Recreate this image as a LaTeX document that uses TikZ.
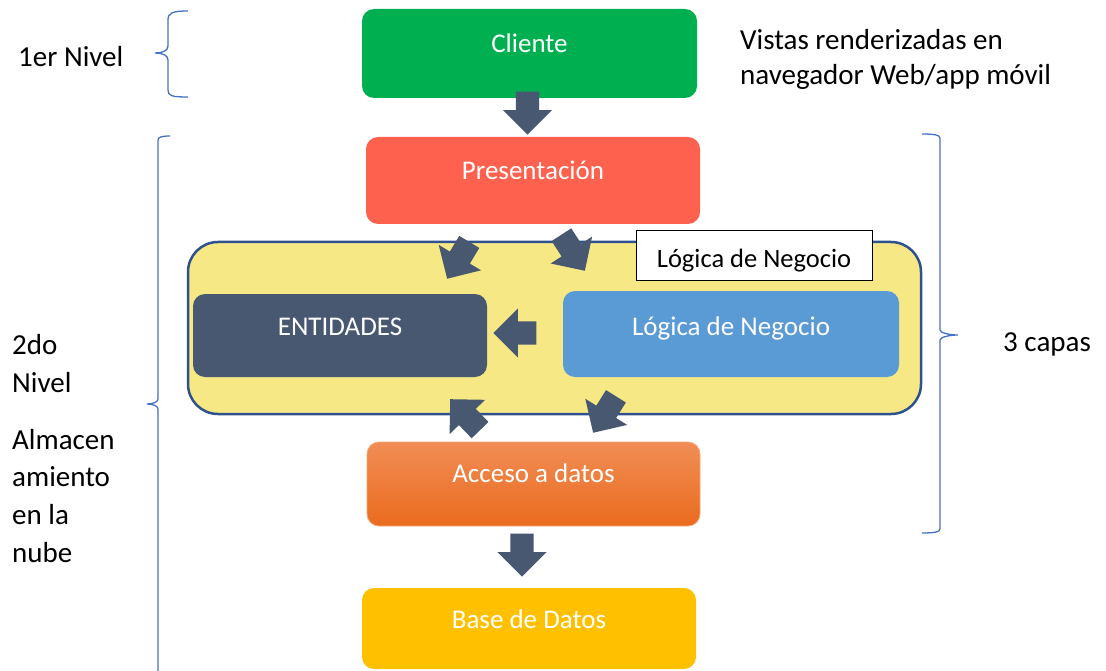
\documentclass[tikz,border=0pt]{standalone}
\usepackage{fontspec}
\setmainfont{Carlito}
\usetikzlibrary{shapes.arrows}
\definecolor{cgreen}{HTML}{00B050}
\definecolor{cred}{HTML}{FF614F}
\definecolor{cyellow}{HTML}{F7E886}
\definecolor{cborder}{HTML}{2F528F}
\definecolor{cslate}{HTML}{475870}
\definecolor{cblue}{HTML}{5B9BD5}
\definecolor{corangeT}{HTML}{F18D55}
\definecolor{corangeB}{HTML}{EA6B1E}
\definecolor{corangeE}{HTML}{F4A77A}
\definecolor{camber}{HTML}{FFC000}
\definecolor{cbrace}{HTML}{4472C4}
\begin{document}
\begin{tikzpicture}[x=1pt,y=-1pt,
  box/.style={rounded corners=12pt, inner sep=0pt, text=white, text height=19pt, text depth=0pt,
     font=\fontsize{27}{32}\selectfont},
  blk/.style={single arrow, fill=cslate, draw=none, minimum height=43pt, minimum width=0pt,
     inner xsep=0pt, inner ysep=11.5pt, single arrow head extend=13pt, anchor=tip},
  side/.style={font=\fontsize{29}{37.5}\selectfont, inner sep=0pt, anchor=base west},
  brace/.style={draw=cbrace, line width=1.3pt}
]
\useasboundingbox (0,0) rectangle (1106,671);

% braces
\draw[brace] (188,11) .. controls (172,11) and (168,13) .. (168,20) -- (168,46)
  .. controls (168,51) and (162,53) .. (155,53) .. controls (162,53) and (168,55) .. (168,60)
  -- (168,90) .. controls (168,96) and (172,97) .. (188,97);
\draw[brace] (170,136) .. controls (162,136) and (158,137) .. (158,140) -- (158,399)
  .. controls (158,402) and (153,404) .. (147,404) .. controls (153,404) and (158,406) .. (158,409)
  -- (158,675);
\draw[brace] (922,134) .. controls (934,134) and (940,135) .. (940,138) -- (940,330)
  .. controls (940,333) and (950,335) .. (958,335) .. controls (950,335) and (940,337) .. (940,340)
  -- (940,529) .. controls (940,532) and (934,533) .. (922,533);

% side texts
\node[side] (n1) at (18,67) {1er Nivel};
\node[side] (v1) at (740,49.5) {Vistas renderizadas en};
\node[side] (v2) at (740,84.5) {navegador Web/app móvil};
\node[side] (capas) at (1003,351) {3 capas};
\node[side] (l1) at (12,354) {2do};
\node[side] (l2) at (12,392) {Nivel};
\node[side] (l3) at (12,449) {Almacen};
\node[side] (l4) at (12,486.5) {amiento};
\node[side] (l5) at (12,524) {en la};
\node[side] (l6) at (12,562) {nube};

% boxes
\node[box, fill=cgreen, minimum width=335pt, minimum height=89pt] (cliente) at (529.5,53.5) {\raisebox{10.5pt}{Cliente}};
\node[box, fill=cred, minimum width=334pt, minimum height=87pt] (pres) at (533,180.5) {\raisebox{10.5pt}{Presentación}};
\node[rounded corners=30pt, fill=cyellow, draw=cborder, line width=2.5pt, minimum width=733pt, minimum height=172pt, inner sep=0pt] (cont) at (554.5,328) {};
\node[box, fill=cslate, minimum width=294pt, minimum height=83pt] (ent) at (340,335.5) {\raisebox{9.5pt}{ENTIDADES}};
\node[box, fill=cblue, minimum width=336pt, minimum height=86pt] (log) at (731,334) {\raisebox{8pt}{Lógica de Negocio}};
\node[box, top color=corangeT, bottom color=corangeB, draw=corangeE, line width=0.8pt, minimum width=333pt, minimum height=84pt] (acc) at (533.5,484) {\raisebox{11pt}{Acceso a datos}};
\node[box, fill=camber, minimum width=334pt, minimum height=81pt] (base) at (529,628.5) {\raisebox{9.5pt}{Base de Datos}};
\node[draw=black, line width=0.8pt, fill=white, minimum width=236pt, minimum height=50pt, inner sep=0pt,
  text height=19pt, text depth=0pt, font=\fontsize{26.5}{30}\selectfont] (lbl) at (754,255) {\raisebox{-2.5pt}{Lógica de Negocio}};

% block arrows
\node[blk, rotate=-90] (a1) at (527.5,135) {};
\node[blk, rotate=-90] (a2) at (522,577) {};
\node[blk, rotate=239] (a3) at (447,279) {};
\node[blk, rotate=-57] (a4) at (585,271) {};
\node[blk, rotate=180] (a5) at (493,333) {};
\node[blk, rotate=134] (a6) at (450,399) {};
\node[blk, rotate=238] (a7) at (593,433) {};
\end{tikzpicture}
\end{document}
